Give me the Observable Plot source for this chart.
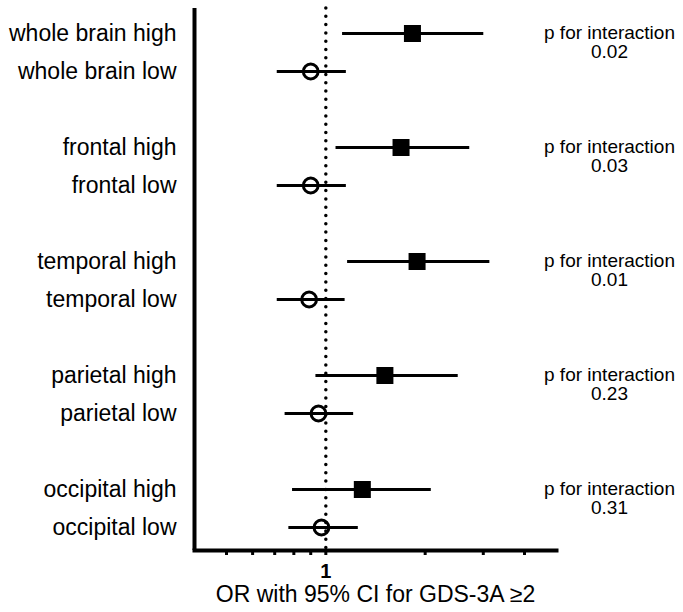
<!DOCTYPE html>
<html>
<head>
<meta charset="utf-8">
<script src="https://cdn.jsdelivr.net/npm/d3@7"></script>
<script src="https://cdn.jsdelivr.net/npm/@observablehq/plot@0.6"></script>
<style>
  html, body { margin: 0; padding: 0; background: #fff; }
  #chart svg { display: block; }
</style>
</head>
<body>
<div id="chart"></div>
<script>
// ---- data ----
const regions = ["whole brain", "frontal", "temporal", "parietal", "occipital"];
const labels = [
  "whole brain high", "whole brain low",
  "frontal high", "frontal low",
  "temporal high", "temporal low",
  "parietal high", "parietal low",
  "occipital high", "occipital low"
];
const groupType = ["high", "low", "high", "low", "high", "low", "high", "low", "high", "low"];
const oddsRatio = [1.83, 0.90, 1.69, 0.90, 1.89, 0.89, 1.51, 0.95, 1.29, 0.97];
const ciLower   = [1.12, 0.71, 1.07, 0.71, 1.16, 0.71, 0.93, 0.75, 0.79, 0.77];
const ciUpper   = [3.00, 1.15, 2.72, 1.15, 3.13, 1.14, 2.51, 1.21, 2.08, 1.25];
const pInteraction = ["0.02", "0.03", "0.01", "0.23", "0.31"];
const xTicks = [0.5, 0.6, 0.7, 0.8, 0.9, 1, 2, 3, 4];
const xLabeled = [1];
const xDomain = [0.4, 5];
const xLabel = "OR with 95% CI for GDS-3A \u22652";

// ---- build tables ----
const rows = labels.map((label, i) => ({
  label, type: groupType[i], or: oddsRatio[i], lo: ciLower[i], hi: ciUpper[i]
}));
const yDomain = [];
regions.forEach((r, i) => {
  yDomain.push(r + " high", r + " low");
  if (i < regions.length - 1) yDomain.push("gap" + i);
});
const pRows = regions.map((r, i) => ({ label: r + " high", text: "p for interaction\n" + pInteraction[i] }));

const chart = Plot.plot({
  width: 683,
  height: 612,
  marginLeft: 194,
  marginRight: 127,
  marginTop: 8,
  marginBottom: 62,
  style: { fontFamily: "'Liberation Sans', Arial, Helvetica, sans-serif", color: "#000", background: "#fff" },
  x: { type: "log", domain: xDomain },
  y: { type: "point", domain: yDomain, padding: 0, insetTop: 21, insetBottom: 20 },
  marks: [
    // reference line at OR = 1
    Plot.ruleX([1], { stroke: "#000", strokeWidth: 3.5, strokeDasharray: "0,8.3", strokeLinecap: "round" }),
    // frame lines
    Plot.ruleX([xDomain[0]], { stroke: "#000", strokeWidth: 4 }),
    Plot.frame({ anchor: "bottom", stroke: "#000", strokeWidth: 4 }),
    // confidence intervals
    Plot.link(rows, { x1: "lo", x2: "hi", y1: "label", y2: "label", stroke: "#000", strokeWidth: 3 }),
    // point estimates
    Plot.dot(rows.filter(d => d.type === "high"), { x: "or", y: "label", symbol: "square", r: 9.6, fill: "#000", stroke: "none" }),
    Plot.dot(rows.filter(d => d.type === "low"), { x: "or", y: "label", symbol: "circle", r: 7.4, fill: "none", stroke: "#000", strokeWidth: 3 }),
    // p for interaction
    Plot.text(pRows, { y: "label", text: "text", frameAnchor: "right", dx: 53, dy: -9, lineAnchor: "top", lineHeight: 1.04, fontSize: 19, fill: "#000", textAnchor: "middle" }),
    // axes
    Plot.axisY({ ticks: labels, tickSize: 0, tickPadding: 18, fontSize: 23, label: null }),
    Plot.axisX({ ticks: xTicks, tickSize: 5, strokeWidth: 3, tickFormat: () => "", label: null }),
    Plot.text(xLabeled, { x: d => d, text: d => String(d), frameAnchor: "bottom", dy: 27, fontSize: 20, fontWeight: "bold", fill: "#000" }),
    Plot.axisX({
      ticks: [], label: xLabel, labelAnchor: "center", labelOffset: 51, labelArrow: "none", fontSize: 23
    })
  ]
});
document.getElementById("chart").appendChild(chart);
</script>
</body>
</html>
